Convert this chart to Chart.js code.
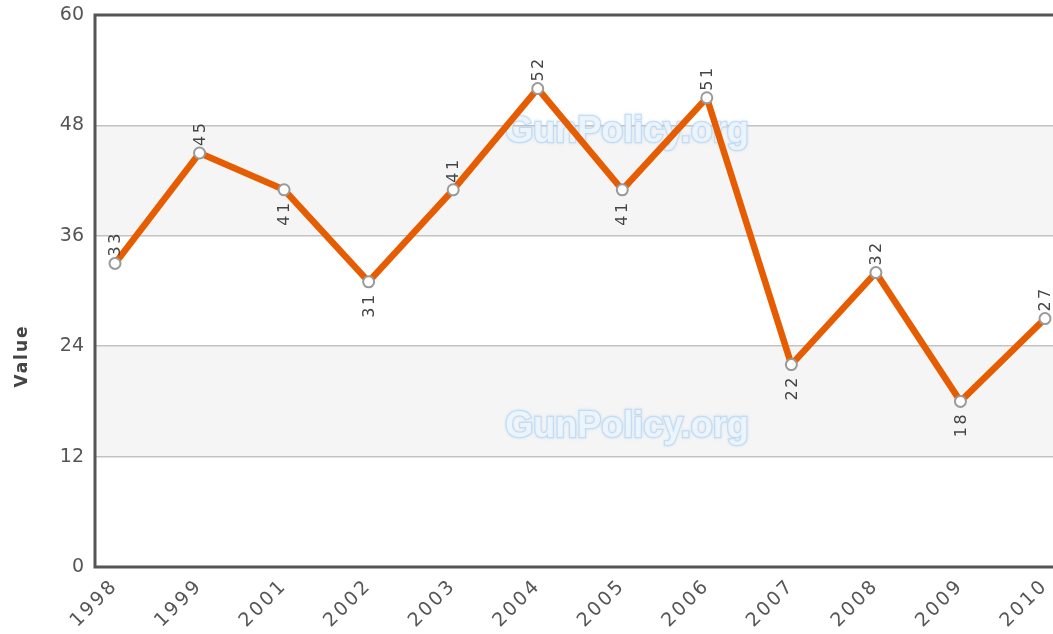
<!DOCTYPE html>
<html>
<head>
<meta charset="utf-8">
<script src="https://cdn.jsdelivr.net/npm/chart.js@4.4.1/dist/chart.umd.min.js"></script>
<style>
html,body{margin:0;padding:0;background:#fff;overflow:hidden;}
canvas{display:block;}
</style>
</head>
<body>
<canvas id="c" width="1053" height="634"></canvas>
<script>
const categories = ["1998","1999","2001","2002","2003","2004","2005","2006","2007","2008","2009","2010"];
const values = [33,45,41,31,41,52,41,51,22,32,18,27];
const yTicks = [0,12,24,36,48,60];
const yTitle = "Value";
const watermark = "GunPolicy.org";

const FONT = "'DejaVu Sans', Verdana, sans-serif";

function setSp(ctx, v){ try{ ctx.letterSpacing = v; }catch(e){} }

const framePlugin = {
  id: 'frame',
  beforeDraw(chart){
    const {ctx, chartArea:a, scales:{x, y}} = chart;
    if (!x._spPatched){
      const orig = x.drawLabels;
      x.drawLabels = function(area){ setSp(this.ctx, '2.5px'); orig.call(this, area); setSp(this.ctx, '0px'); };
      x._spPatched = true;
    }
    setSp(ctx, '0px');
    ctx.save();
    ctx.fillStyle = '#f5f5f5';
    [[12,24],[36,48]].forEach(([lo,hi])=>{
      const t = y.getPixelForValue(hi), b = y.getPixelForValue(lo);
      ctx.fillRect(a.left, t, a.right - a.left, b - t);
    });
    ctx.restore();
  },
  beforeDatasetsDraw(chart){
    const {ctx, chartArea:a} = chart;
    ctx.save();
    setSp(ctx, '0px');
    ctx.font = "bold 36px 'Liberation Sans', Arial, sans-serif";
    ctx.textAlign = 'center';
    ctx.textBaseline = 'middle';
    [132, 427].forEach(py=>{
      ctx.shadowColor = 'rgba(160,200,238,0.5)';
      ctx.shadowBlur = 3;
      ctx.lineWidth = 2.5;
      ctx.strokeStyle = 'rgba(185,215,242,0.75)';
      ctx.strokeText(watermark, 627, py);
      ctx.shadowBlur = 0;
      ctx.fillStyle = 'rgba(236,244,252,0.95)';
      ctx.fillText(watermark, 627, py);
    });
    // frame
    ctx.strokeStyle = '#555';
    ctx.lineWidth = 3;
    ctx.beginPath();
    ctx.moveTo(a.right + 5, a.top);
    ctx.lineTo(a.left, a.top);
    ctx.lineTo(a.left, a.bottom);
    ctx.lineTo(a.right + 5, a.bottom);
    ctx.stroke();
    ctx.restore();
  },
  afterDatasetsDraw(chart){
    const {ctx} = chart;
    const meta = chart.getDatasetMeta(0);
    ctx.save();
    ctx.font = "16px " + FONT;
    ctx.fillStyle = '#444';
    setSp(ctx, '2.5px');
    ctx.textBaseline = 'middle';
    meta.data.forEach((pt,i)=>{
      const below = i > 0 && values[i] < values[i-1];
      ctx.save();
      if (below){
        ctx.translate(pt.x + 1, pt.y + 8);
        ctx.rotate(-Math.PI/2);
        ctx.textAlign = 'right';
        ctx.fillText(String(values[i]), -2.5, 0);
      } else {
        ctx.translate(pt.x + 1, pt.y - 7);
        ctx.rotate(-Math.PI/2);
        ctx.textAlign = 'left';
        ctx.fillText(String(values[i]), 0, 0);
      }
      ctx.restore();
    });
    setSp(ctx, '0px');
    ctx.restore();
  },
  afterDraw(chart){
    const {ctx} = chart;
    ctx.save();
    ctx.font = "bold 17px " + FONT;
    ctx.fillStyle = '#444';
    setSp(ctx, '2px');
    ctx.translate(23, 356);
    ctx.rotate(-Math.PI/2);
    ctx.textAlign = 'center';
    ctx.textBaseline = 'middle';
    ctx.fillText(yTitle, 0, 0);
    setSp(ctx, '0px');
    ctx.restore();
  }
};

const chart = new Chart(document.getElementById('c'), {
  type: 'line',
  data: {
    datasets: [{
      data: values.map((v,i)=>({x:i, y:v})),
      borderColor: '#E65C00',
      borderWidth: 6.5,
      tension: 0,
      fill: false,
      clip: false,
      pointRadius: 5.5,
      pointBackgroundColor: '#ffffff',
      pointBorderColor: '#9a9a9a',
      pointBorderWidth: 2,
      pointHoverRadius: 5.5
    }]
  },
  options: {
    responsive: false,
    animation: false,
    devicePixelRatio: 1,
    layout: { autoPadding: false, padding: { top: 15, right: 0, left: 0, bottom: 0 } },
    plugins: { legend: { display: false }, tooltip: { enabled: false }, title: { display: false } },
    scales: {
      x: {
        type: 'linear',
        min: -0.2366,
        max: 11.0946,
        afterBuildTicks(scale){ scale.ticks = categories.map((_,i)=>({value:i})); },
        afterFit(scale){ scale.height = 67; scale.paddingLeft = 0; scale.paddingRight = 0; },
        grid: { display: false, drawTicks: false },
        border: { display: false },
        ticks: {
          autoSkip: false,
          minRotation: 45,
          maxRotation: 45,
          padding: 8,
          color: '#555',
          font: { family: FONT, size: 19 },
          callback: (v)=>categories[v]
        }
      },
      y: {
        min: 0,
        max: 60,
        afterBuildTicks(scale){ scale.ticks = yTicks.map(v=>({value:v})); },
        afterFit(scale){ scale.width = 95; scale.paddingTop = 0; scale.paddingBottom = 0; },
        grid: {
          drawTicks: false,
          color: (c)=> (c.tick && (c.tick.value === 0 || c.tick.value === 60)) ? 'rgba(0,0,0,0)' : '#c2c2c2',
          lineWidth: 1.5
        },
        border: { display: false },
        ticks: {
          padding: 11,
          color: '#555',
          font: { family: FONT, size: 19 }
        }
      }
    }
  },
  plugins: [framePlugin]
});
</script>
</body>
</html>
